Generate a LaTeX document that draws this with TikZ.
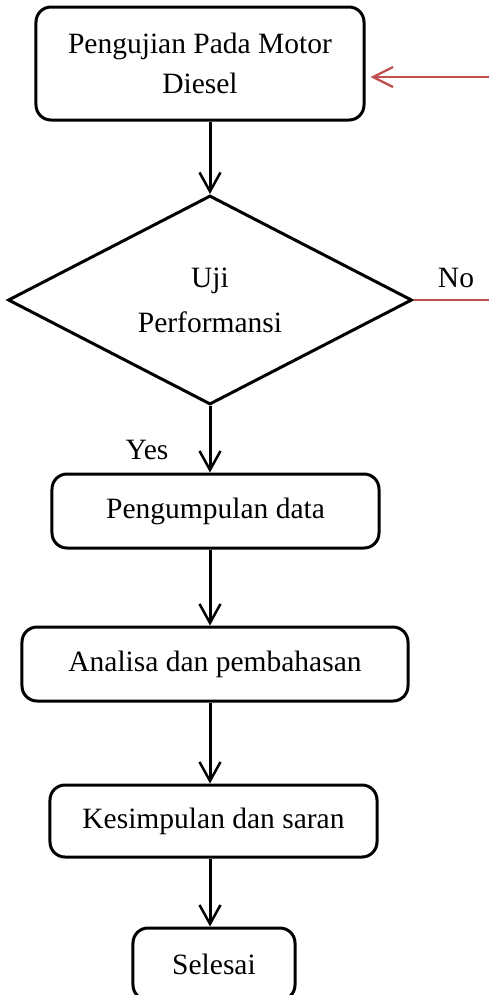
\documentclass[tikz,border=0pt]{standalone}
\usepackage{fontspec}
\setmainfont{Liberation Serif}
\usetikzlibrary{arrows.meta,shapes.geometric,positioning}
\definecolor{noRed}{RGB}{192,80,77}

\begin{document}
\begin{tikzpicture}[x=0.4pt,y=-0.4pt,
  box/.style={draw,rounded corners=6pt,line width=1.2pt,align=center,inner sep=2pt,
    font=\fontsize{11.8}{16}\selectfont},
  decision/.style={draw,diamond,line width=1.2pt,align=center,inner sep=0pt,
    minimum width=161.6pt,minimum height=81.6pt,font=\fontsize{11.8}{18}\selectfont},
  flow/.style={-{Straight Barb[length=7.6pt,width=8.4pt,line width=1pt]},line width=1.2pt},
  back/.style={noRed,line width=0.9pt},
  lbl/.style={font=\fontsize{11.8}{13}\selectfont,inner sep=0pt}]
  \useasboundingbox (0,0) rectangle (489,995);
  \clip (0,0) rectangle (489,995);
  % boxes of the flow
  \node[box,minimum width=131.2pt,minimum height=45.2pt] (uji) at (200,63.5) {Pengujian Pada Motor\\Diesel};
  \node[decision] (perf) at (210,300) {Uji\\Performansi};
  \node[box,minimum width=130.8pt,minimum height=29.6pt] (data) at (215.5,511) {Pengumpulan data};
  \node[box,minimum width=154.4pt,minimum height=29.6pt] (analisa) at (215,664) {Analisa dan pembahasan};
  \node[box,minimum width=130.8pt,minimum height=28.8pt] (simpul) at (213.5,821) {Kesimpulan dan saran};
  \node[box,minimum width=64.8pt,minimum height=28.8pt] (selesai) at (214,964) {Selesai};
  % labels
  \node[lbl] (no) at (456,278) {No};
  \node[lbl] (yes) at (147,450) {Yes};
  % loop back
  \coordinate (noEnd) at (489,300);
  \coordinate (backStart) at (489,77);
  \draw[flow] (uji.south -| perf.north) -- (perf.north);
  \draw[flow] (perf.south) -- (perf.south |- data.north);
  \draw[flow] (data.south -| perf.south) -- (analisa.north -| perf.south);
  \draw[flow] (analisa.south -| perf.south) -- (simpul.north -| perf.south);
  \draw[flow] (simpul.south -| perf.south) -- (selesai.north -| perf.south);
  \draw[back] (perf.east) -- (perf.east -| noEnd);
  \draw[back,-{Straight Barb[length=8pt,width=8pt,line width=0.9pt]}] (backStart) -- ([xshift=2pt]backStart -| uji.east);
\end{tikzpicture}
\end{document}
